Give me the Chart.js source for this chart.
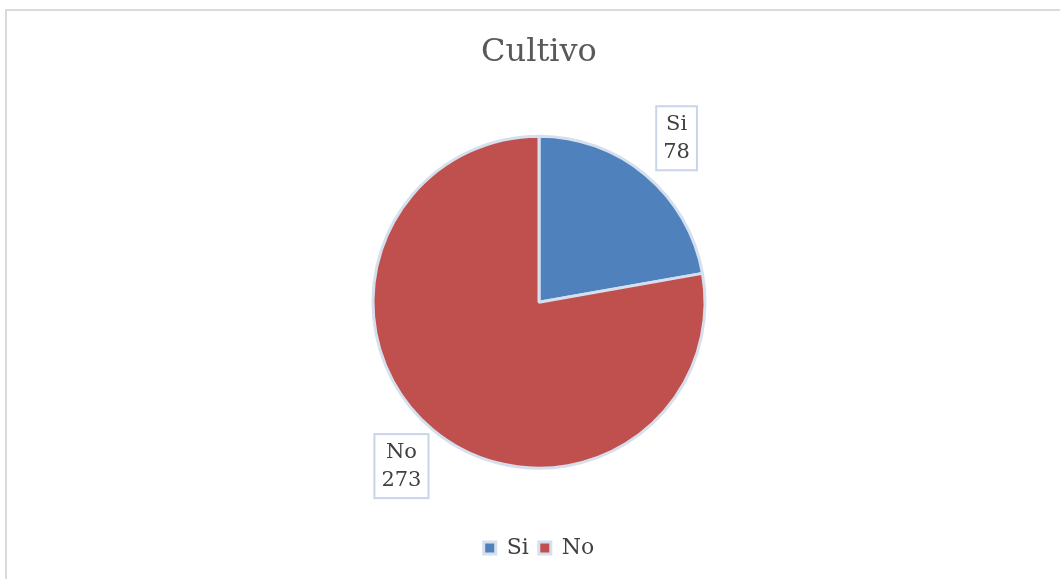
<!DOCTYPE html>
<html>
<head>
<meta charset="utf-8">
<script src="https://cdn.jsdelivr.net/npm/chart.js@4"></script>
<style>
  html, body { margin: 0; padding: 0; background: #fff; overflow: hidden; }
  #frame { position: absolute; left: 5px; top: 9px; width: 1060px; height: 580px;
           border-left: 2px solid #dadada; border-top: 2px solid #dadada; }
  #wrap { position: absolute; left: 0; top: 0; width: 1060px; height: 579px; }
</style>
</head>
<body>
<div id="frame"></div>
<div id="wrap"><canvas id="pieChart"></canvas></div>
<script>
// values
const labels = ['Si', 'No'];
const counts = [78, 273];
const colors = ['#4F81BD', '#C0504D'];
const titleText = 'Cultivo';

const serif = "'DejaVu Serif', 'Liberation Serif', serif";

// boxed "label / value" callouts outside each slice
const calloutPlugin = {
  id: 'callouts',
  afterDatasetsDraw(chart) {
    const ctx = chart.ctx;
    const meta = chart.getDatasetMeta(0);
    meta.data.forEach((arc, i) => {
      const mid = (arc.startAngle + arc.endAngle) / 2;
      const dist = arc.outerRadius + 48;
      const cx = arc.x + Math.cos(mid) * dist;
      const cy = arc.y + Math.sin(mid) * dist;
      ctx.save();
      ctx.font = '21px ' + serif;
      const lines = [labels[i], String(counts[i])];
      const w = Math.max(...lines.map(t => ctx.measureText(t).width)) + 14;
      const h = 64;
      ctx.fillStyle = '#fff';
      ctx.fillRect(cx - w / 2, cy - h / 2, w, h);
      ctx.strokeStyle = '#c8d5e9';
      ctx.lineWidth = 2;
      ctx.strokeRect(cx - w / 2, cy - h / 2, w, h);
      ctx.fillStyle = '#404040';
      ctx.textAlign = 'center';
      ctx.textBaseline = 'middle';
      ctx.fillText(lines[0], cx, cy - 14);
      ctx.fillText(lines[1], cx, cy + 14);
      ctx.restore();
    });
  }
};

const ctx = document.getElementById('pieChart').getContext('2d');
const chart = new Chart(ctx, {
  type: 'pie',
  data: {
    labels: labels,
    datasets: [{
      data: counts,
      backgroundColor: colors,
      borderColor: '#d5dfee',
      borderWidth: 3
    }]
  },
  options: {
    responsive: true,
    maintainAspectRatio: false,
    animation: false,
    radius: 166,
    layout: { padding: { top: 0, bottom: 10, left: 18 } },
    plugins: {
      title: {
        display: true,
        text: titleText,
        color: '#595959',
        font: { family: serif, size: 32, weight: 'normal' },
        padding: { top: 33, bottom: 6 }
      },
      legend: {
        display: true,
        position: 'bottom',
        labels: {
          color: '#404040',
          font: { family: serif, size: 22 },
          boxWidth: 12,
          boxHeight: 12,
          padding: 10
        }
      },
      tooltip: { enabled: false }
    }
  },
  plugins: [calloutPlugin]
});
</script>
</body>
</html>
